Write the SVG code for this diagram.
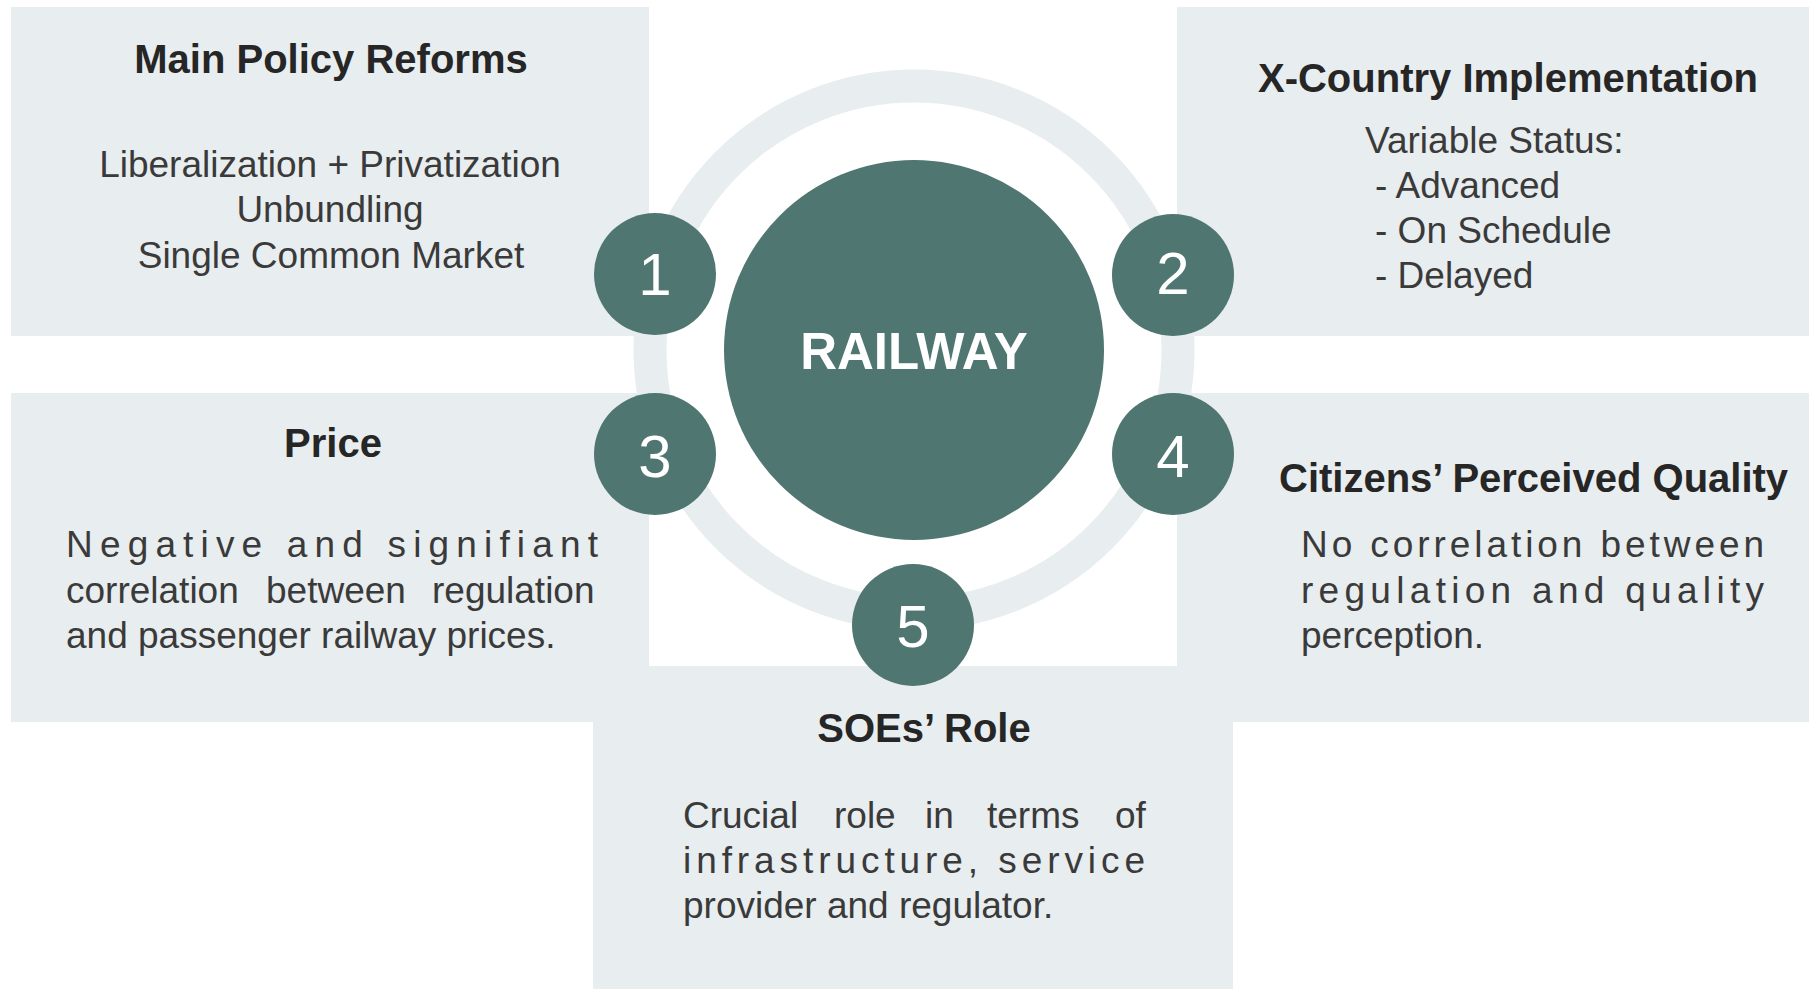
<svg xmlns="http://www.w3.org/2000/svg" width="1809" height="989" viewBox="0 0 1809 989">
<style>
.panel{fill:#E8EDEF}
.dot{fill:#4F7671}
.title{font-family:"Liberation Sans",Arial,sans-serif;font-weight:bold;font-size:40px;fill:#262626}
.body{font-family:"Liberation Sans",Arial,sans-serif;font-size:37px;fill:#3a3a3a}
.num{font-family:"Liberation Sans",Arial,sans-serif;font-size:60px;fill:#ffffff;text-anchor:middle}
.center{font-family:"Liberation Sans",Arial,sans-serif;font-weight:bold;font-size:51px;fill:#ffffff;text-anchor:middle}
.mid{text-anchor:middle}
</style>
<rect width="1809" height="989" fill="#ffffff"/>
<g id="panels">
<rect class="panel" x="11" y="7" width="638" height="329"/>
<rect class="panel" x="1177" y="7" width="632" height="329"/>
<rect class="panel" x="11" y="393" width="638" height="329"/>
<rect class="panel" x="1177" y="393" width="632" height="329"/>
<rect class="panel" x="593" y="666" width="640" height="323"/>
</g>
<g id="connectors">
<circle cx="914" cy="350" r="264" fill="none" stroke="#E8EDEF" stroke-width="33"/>
</g>
<g id="railway">
<circle class="dot" cx="914" cy="350" r="190"/>
<text class="center" x="914" y="369">RAILWAY</text>
</g>
<g id="node1">
<text class="title mid" x="331" y="73">Main Policy Reforms</text>
<text class="body mid" x="330" y="177">Liberalization + Privatization</text>
<text class="body mid" x="330" y="222">Unbundling</text>
<text class="body mid" x="331" y="268">Single Common Market</text>
<circle class="dot" cx="655" cy="274" r="61"/>
<text class="num" x="655" y="295">1</text>
</g>
<g id="node2">
<text class="title mid" x="1508" y="92">X-Country Implementation</text>
<text class="body" x="1365" y="153">Variable Status:</text>
<text class="body" x="1375" y="198">- Advanced</text>
<text class="body" x="1375" y="243">- On Schedule</text>
<text class="body" x="1375" y="288">- Delayed</text>
<circle class="dot" cx="1173" cy="275" r="61"/>
<text class="num" x="1173" y="294">2</text>
</g>
<g id="node3">
<text class="title mid" x="333" y="457">Price</text>
<text class="body" x="66" y="557" textLength="532" lengthAdjust="spacing">Negative and signifiant</text>
<text class="body" y="603"><tspan x="66">correlation</tspan> <tspan x="266">between</tspan> <tspan x="432">regulation</tspan></text>
<text class="body" x="66" y="648">and passenger railway prices.</text>
<circle class="dot" cx="655" cy="454" r="61"/>
<text class="num" x="655" y="477">3</text>
</g>
<g id="node4">
<text class="title" x="1279" y="492">Citizens’ Perceived Quality</text>
<text class="body" x="1301" y="557" textLength="463" lengthAdjust="spacing">No correlation between</text>
<text class="body" x="1301" y="603" textLength="463" lengthAdjust="spacing">regulation and quality</text>
<text class="body" x="1301" y="648">perception.</text>
<circle class="dot" cx="1173" cy="454" r="61"/>
<text class="num" x="1173" y="477">4</text>
</g>
<g id="node5">
<circle class="dot" cx="913" cy="625" r="61"/>
<text class="num" x="913" y="647">5</text>
<text class="title mid" x="924" y="742">SOEs’ Role</text>
<text class="body" y="828"><tspan x="683">Crucial</tspan> <tspan x="834">role</tspan> <tspan x="925">in</tspan> <tspan x="987">terms</tspan> <tspan x="1115">of</tspan></text>
<text class="body" x="683" y="873" textLength="462" lengthAdjust="spacing">infrastructure, service</text>
<text class="body" x="683" y="918">provider and regulator.</text>
</g>
</svg>
